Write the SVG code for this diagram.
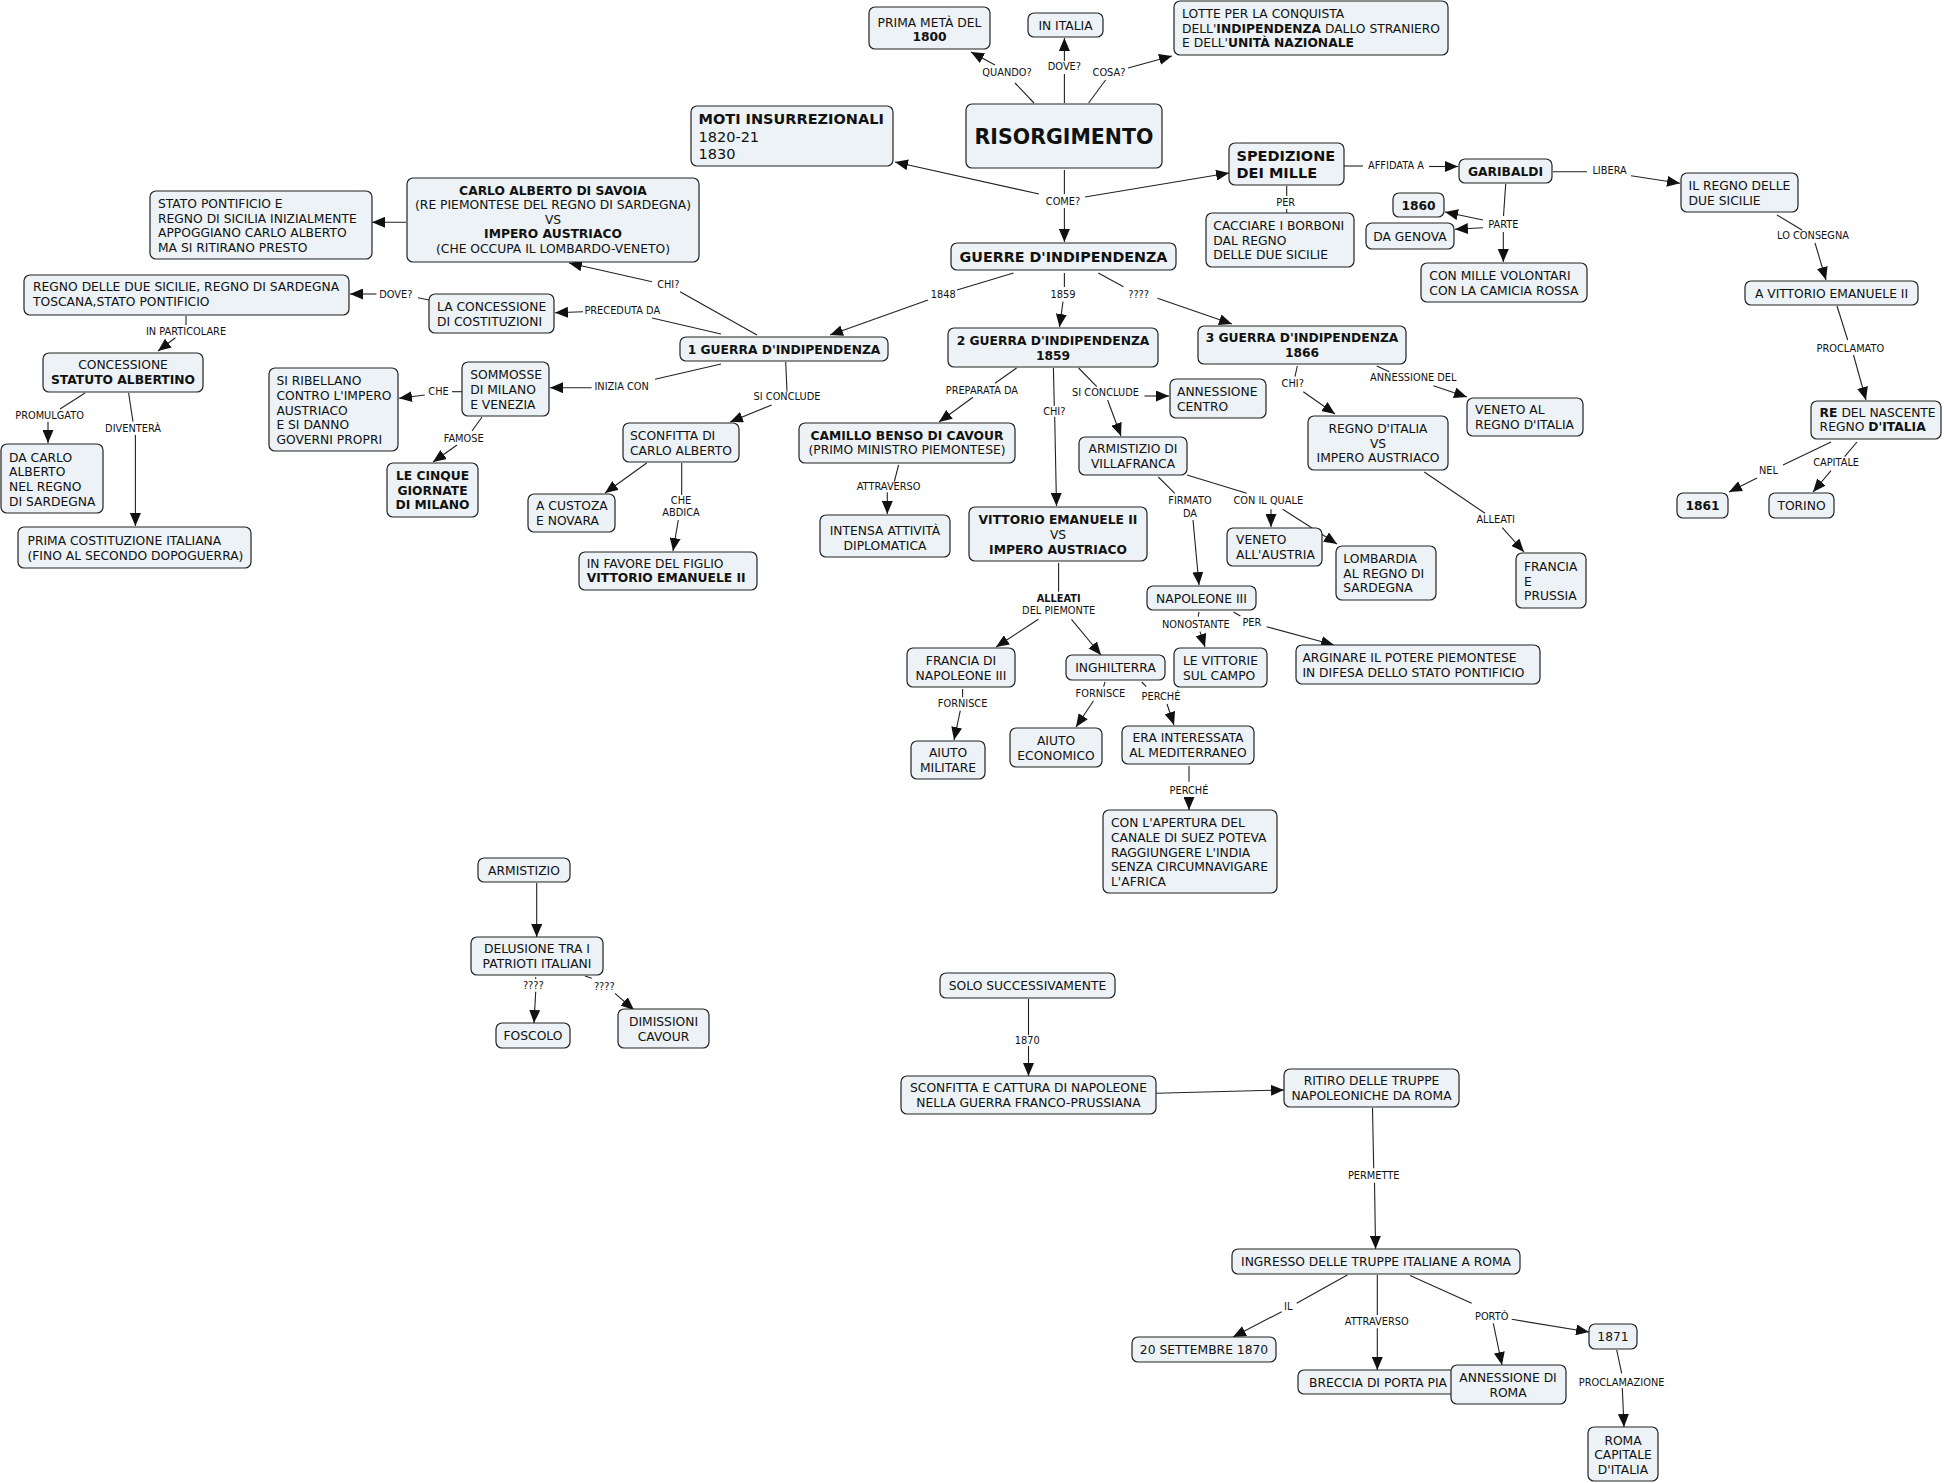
<svg xmlns="http://www.w3.org/2000/svg" width="1944" height="1483" viewBox="0 0 1944 1483">
<defs>
<style>
.n rect{fill:#ecf2f5;stroke:#222;stroke-width:1.2}
text{font-family:"DejaVu Sans",Verdana,sans-serif;fill:#111}
.t{font-size:12.3px}
.tc{text-anchor:middle}
.b{font-weight:bold}
.big{font-size:14.5px}
.l{font-size:9.8px;text-anchor:middle}
.c line{stroke:#222;stroke-width:1.1}
.c line.a{marker-end:url(#ah)}
</style>
<marker id="ah" markerUnits="userSpaceOnUse" markerWidth="13" markerHeight="11" refX="13" refY="5.5" orient="auto"><path d="M0,0 L13,5.5 L0,11 z" fill="#111"/></marker>
</defs>
<rect width="1944" height="1483" fill="#fff"/>
<g id="connectors" class="c">
<line x1="1034" y1="103" x2="1015" y2="83"/><line class="a" x1="995" y1="65" x2="971" y2="52"/>
<line x1="1064.4" y1="103" x2="1064.4" y2="74"/><line class="a" x1="1064.4" y1="61" x2="1064.4" y2="38"/>
<line x1="1088.6" y1="103" x2="1105.6" y2="80"/><line class="a" x1="1128" y1="68" x2="1172" y2="56"/>
<line x1="1064.4" y1="170" x2="1064.4" y2="194"/><line class="a" x1="1039" y1="194" x2="895" y2="162"/><line class="a" x1="1085" y1="197" x2="1229" y2="173"/><line class="a" x1="1064.4" y1="208" x2="1064.4" y2="242"/>
<line x1="1344" y1="166" x2="1363" y2="166"/><line class="a" x1="1429" y1="166.5" x2="1458" y2="166.5"/>
<line x1="1286.7" y1="186" x2="1286.7" y2="196"/><line x1="1286.7" y1="209" x2="1286.7" y2="213"/>
<line x1="1553" y1="171.7" x2="1587" y2="171.7"/><line class="a" x1="1631" y1="175.7" x2="1680" y2="183.3"/>
<line x1="1505.7" y1="184" x2="1503.5" y2="216"/><line class="a" x1="1483" y1="220" x2="1445" y2="212"/><line class="a" x1="1483" y1="227.7" x2="1455" y2="229.3"/><line class="a" x1="1503.3" y1="232" x2="1503.3" y2="262"/>
<line x1="1777" y1="215" x2="1802" y2="230"/><line class="a" x1="1815" y1="243" x2="1826" y2="280"/>
<line x1="1837" y1="306" x2="1847.7" y2="340"/><line class="a" x1="1853.5" y1="355" x2="1866" y2="400"/>
<line x1="1831" y1="442" x2="1783" y2="465"/><line class="a" x1="1757" y1="478" x2="1729" y2="492"/>
<line x1="1857" y1="442" x2="1844.6" y2="456.7"/><line class="a" x1="1831" y1="470.7" x2="1813" y2="492"/>
<line x1="1013.5" y1="273" x2="957" y2="290"/><line class="a" x1="928" y1="300" x2="830" y2="335"/>
<line x1="1064.4" y1="273" x2="1064.4" y2="287"/><line class="a" x1="1063" y1="301.7" x2="1059.5" y2="327"/>
<line x1="1098.3" y1="273" x2="1123.5" y2="286.7"/><line class="a" x1="1157.5" y1="298.3" x2="1232" y2="324"/>
<line x1="757" y1="335" x2="680" y2="291.7"/><line class="a" x1="652" y1="281.7" x2="569" y2="263"/>
<line x1="721" y1="334" x2="652" y2="318"/><line class="a" x1="583" y1="311.7" x2="555" y2="312.7"/>
<line x1="429" y1="300" x2="418" y2="297.7"/><line class="a" x1="376.5" y1="294" x2="350" y2="294"/>
<line x1="186" y1="316" x2="186" y2="325"/><line class="a" x1="175.4" y1="337.7" x2="158" y2="351"/>
<line x1="85" y1="393" x2="60" y2="409"/><line class="a" x1="48" y1="421.7" x2="48" y2="443"/>
<line x1="128.6" y1="393" x2="133" y2="421.7"/><line class="a" x1="135.4" y1="435" x2="135.4" y2="526"/>
<line x1="721" y1="364" x2="655" y2="379.3"/><line class="a" x1="591.7" y1="387.7" x2="550" y2="387.7"/>
<line x1="462" y1="391.7" x2="452" y2="391.7"/><line class="a" x1="424.7" y1="395" x2="399" y2="398.3"/>
<line x1="482" y1="417" x2="472" y2="431"/><line class="a" x1="457" y1="445" x2="433" y2="462"/>
<line x1="785.7" y1="362" x2="787" y2="391.7"/><line class="a" x1="771.7" y1="405" x2="730" y2="422"/>
<line class="a" x1="646.7" y1="463" x2="605" y2="493"/>
<line x1="681.7" y1="463" x2="681.7" y2="495"/><line class="a" x1="678.3" y1="520" x2="673" y2="551"/>
<line x1="1016.6" y1="368" x2="995" y2="383.3"/><line class="a" x1="973" y1="397.3" x2="939" y2="422"/>
<line x1="898.6" y1="465" x2="894.3" y2="481.7"/><line class="a" x1="887.3" y1="492.3" x2="887.3" y2="514"/>
<line x1="1053.4" y1="368" x2="1054.3" y2="406"/><line class="a" x1="1054.7" y1="416.7" x2="1056.5" y2="506"/>
<line x1="1078.6" y1="368" x2="1096.8" y2="386.7"/><line class="a" x1="1144.5" y1="396" x2="1169" y2="396"/><line class="a" x1="1107.6" y1="400" x2="1121" y2="436"/>
<line x1="1158.4" y1="477" x2="1174.8" y2="493.3"/><line class="a" x1="1193" y1="520" x2="1199" y2="585"/>
<line x1="1187" y1="475" x2="1246.7" y2="493.3"/><line class="a" x1="1271" y1="509.3" x2="1271" y2="527"/><line class="a" x1="1282.7" y1="509.3" x2="1337" y2="544"/>
<line x1="1297.3" y1="366" x2="1295" y2="376.7"/><line class="a" x1="1303.3" y1="391.7" x2="1335" y2="414"/>
<line x1="1376.7" y1="366" x2="1389.3" y2="371.7"/><line class="a" x1="1433.3" y1="385.7" x2="1467" y2="397"/>
<line x1="1424.3" y1="472" x2="1485" y2="513.3"/><line class="a" x1="1502.3" y1="527.7" x2="1524" y2="552"/>
<line x1="1058.6" y1="563" x2="1058.6" y2="591.7"/><line class="a" x1="1038.4" y1="619.3" x2="996" y2="647"/><line class="a" x1="1071.5" y1="619.3" x2="1101" y2="655"/>
<line x1="962.6" y1="689" x2="962.6" y2="697.3"/><line class="a" x1="960.3" y1="710.7" x2="954" y2="740"/>
<line x1="1105" y1="682" x2="1103.6" y2="686.7"/><line class="a" x1="1093.5" y1="700.7" x2="1076" y2="727"/>
<line x1="1141.7" y1="682" x2="1146.3" y2="686.7"/><line class="a" x1="1167" y1="704" x2="1174" y2="725"/>
<line x1="1189" y1="766" x2="1189" y2="781.7"/><line class="a" x1="1189" y1="797.3" x2="1189" y2="810"/>
<line x1="1199" y1="612" x2="1198.2" y2="616.7"/><line class="a" x1="1200" y1="631.7" x2="1205" y2="647"/>
<line x1="1233.5" y1="612" x2="1240.4" y2="616"/><line class="a" x1="1266.6" y1="626.7" x2="1334" y2="645"/>
<line class="a" x1="536.7" y1="883" x2="536.7" y2="937"/>
<line x1="535.7" y1="977" x2="535.7" y2="979"/><line class="a" x1="535.7" y1="991.7" x2="534" y2="1023"/>
<line x1="585" y1="976" x2="591.7" y2="978.3"/><line class="a" x1="615" y1="993.3" x2="634" y2="1010"/>
<line x1="1028.5" y1="999" x2="1028.5" y2="1035"/><line class="a" x1="1028.5" y1="1046" x2="1028.5" y2="1076"/>
<line class="a" x1="1156.3" y1="1093.3" x2="1284" y2="1090"/>
<line x1="1372.5" y1="1108" x2="1373.7" y2="1168.3"/><line class="a" x1="1374.5" y1="1182.7" x2="1375.6" y2="1249"/>
<line x1="1347.3" y1="1275" x2="1296.7" y2="1303.3"/><line class="a" x1="1281.7" y1="1311.7" x2="1233" y2="1337"/>
<line x1="1377.3" y1="1275" x2="1377.3" y2="1315"/><line class="a" x1="1377.3" y1="1328.3" x2="1377.3" y2="1370"/>
<line x1="1410" y1="1275.5" x2="1471.7" y2="1303.3"/><line class="a" x1="1493.3" y1="1323.3" x2="1502" y2="1365"/><line class="a" x1="1511.7" y1="1319.3" x2="1589" y2="1332"/>
<line x1="1616.7" y1="1350" x2="1621.7" y2="1373.3"/><line class="a" x1="1622.3" y1="1388" x2="1624" y2="1427"/>
<line class="a" x1="406" y1="222.3" x2="372" y2="222.3"/>
<text class="l" x="1007" y="76.3">QUANDO?</text>
<text class="l" x="1064.4" y="70.3">DOVE?</text>
<text class="l" x="1109" y="76.3">COSA?</text>
<text class="l" x="1063" y="204.9">COME?</text>
<text class="l" x="1396" y="168.6">AFFIDATA A</text>
<text class="l" x="1285.7" y="206.3">PER</text>
<text class="l" x="1609.6" y="174.3">LIBERA</text>
<text class="l" x="1503.3" y="227.9">PARTE</text>
<text class="l" x="1813" y="239.3">LO CONSEGNA</text>
<text class="l" x="1850.4" y="351.6">PROCLAMATO</text>
<text class="l" x="1768.4" y="474.3">NEL</text>
<text class="l" x="1836.1" y="466.3">CAPITALE</text>
<text class="l" x="943.2" y="298.3">1848</text>
<text class="l" x="1063" y="297.6">1859</text>
<text class="l" x="1138.6" y="297.6">????</text>
<text class="l" x="668.3" y="287.6">CHI?</text>
<text class="l" x="622.3" y="314.3">PRECEDUTA DA</text>
<text class="l" x="395.8" y="297.6">DOVE?</text>
<text class="l" x="186" y="334.6">IN PARTICOLARE</text>
<text class="l" x="49.6" y="418.6">PROMULGATO</text>
<text class="l" x="133.1" y="431.9">DIVENTERÀ</text>
<text class="l" x="621.7" y="390.3">INIZIA CON</text>
<text class="l" x="438.5" y="395.3">CHE</text>
<text class="l" x="463.7" y="441.9">FAMOSE</text>
<text class="l" x="787" y="400.3">SI CONCLUDE</text>
<text class="l" x="681" y="504.3">CHE<tspan x="681" y="516.3">ABDICA</tspan></text>
<text class="l" x="981.9" y="393.6">PREPARATA DA</text>
<text class="l" x="888.6" y="490.3">ATTRAVERSO</text>
<text class="l" x="1054.3" y="414.6">CHI?</text>
<text class="l" x="1105.5" y="396.3">SI CONCLUDE</text>
<text class="l" x="1190" y="504.3">FIRMATO<tspan x="1190" y="516.9">DA</tspan></text>
<text class="l" x="1268.3" y="503.6">CON IL QUALE</text>
<text class="l" x="1292.7" y="386.9">CHI?</text>
<text class="l" x="1413.3" y="381.3">ANNESSIONE DEL</text>
<text class="l" x="1495.7" y="522.9">ALLEATI</text>
<text class="l" x="1058.6" y="601.9"><tspan class="b">ALLEATI</tspan><tspan x="1058.6" y="614.3">DEL PIEMONTE</tspan></text>
<text class="l" x="962.6" y="706.9">FORNISCE</text>
<text class="l" x="1100.4" y="696.9">FORNISCE</text>
<text class="l" x="1161" y="700.3">PERCHÉ</text>
<text class="l" x="1189" y="794.3">PERCHÉ</text>
<text class="l" x="1195.9" y="627.9">NONOSTANTE</text>
<text class="l" x="1251.9" y="626.3">PER</text>
<text class="l" x="533.3" y="989.3">????</text>
<text class="l" x="604.3" y="990.3">????</text>
<text class="l" x="1027.3" y="1043.6">1870</text>
<text class="l" x="1373.7" y="1178.6">PERMETTE</text>
<text class="l" x="1288.3" y="1310.3">IL</text>
<text class="l" x="1376.7" y="1325.3">ATTRAVERSO</text>
<text class="l" x="1491.7" y="1319.6">PORTÒ</text>
<text class="l" x="1621.6" y="1386">PROCLAMAZIONE</text>
</g>
<g id="n-prima" class="n"><rect x="869" y="7" width="121" height="42" rx="6"/><text class="t tc" x="929.5" y="27.2">PRIMA METÀ DEL<tspan class="b" x="929.5" y="41.2">1800</tspan></text></g>
<g id="n-initalia" class="n"><rect x="1028" y="13" width="75" height="24" rx="6"/><text class="t tc" x="1065.5" y="29.5">IN ITALIA</text></g>
<g id="n-lotte" class="n"><rect x="1174" y="1" width="274" height="54" rx="6"/><text class="t" x="1182" y="17.8">LOTTE PER LA CONQUISTA<tspan x="1182" y="32.8">DELL'<tspan class="b">INDIPENDENZA</tspan> DALLO STRANIERO</tspan><tspan x="1182" y="47.2">E DELL'<tspan class="b">UNITÀ NAZIONALE</tspan></tspan></text></g>
<g id="n-risorgimento" class="n"><rect x="966" y="104" width="196" height="64" rx="6"/><text class="b tc" x="1064" y="143.5" font-size="20.5">RISORGIMENTO</text></g>
<g id="n-moti" class="n"><rect x="691" y="106" width="202" height="60" rx="6"/><text class="big" x="698.5" y="124.3"><tspan class="b">MOTI INSURREZIONALI</tspan><tspan x="698.5" y="142">1820-21</tspan><tspan x="698.5" y="158.6">1830</tspan></text></g>
<g id="n-spedizione" class="n"><rect x="1229" y="143" width="115" height="42" rx="6"/><text class="big b" x="1236.5" y="160.6">SPEDIZIONE<tspan x="1236.5" y="178">DEI MILLE</tspan></text></g>
<g id="n-guerre" class="n"><rect x="951" y="243" width="225" height="27" rx="6"/><text class="b tc" x="1063.5" y="262" font-size="14.3">GUERRE D'INDIPENDENZA</text></g>
<g id="n-cacciare" class="n"><rect x="1206" y="213" width="148" height="54" rx="6"/><text class="t" x="1213.3" y="229.5">CACCIARE I BORBONI<tspan x="1213.3" y="244.5">DAL REGNO</tspan><tspan x="1213.3" y="259.2">DELLE DUE SICILIE</tspan></text></g>
<g id="n-garibaldi" class="n"><rect x="1459" y="159" width="93" height="24" rx="6"/><text class="t tc b" x="1505.5" y="175.5">GARIBALDI</text></g>
<g id="n-1860" class="n"><rect x="1393" y="193" width="51" height="24" rx="6"/><text class="t tc b" x="1418.5" y="209.5">1860</text></g>
<g id="n-genova" class="n"><rect x="1366" y="223" width="88" height="26" rx="6"/><text class="t tc" x="1410" y="240.5">DA GENOVA</text></g>
<g id="n-conmille" class="n"><rect x="1421" y="263" width="166" height="39" rx="6"/><text class="t" x="1429.3" y="280.2">CON MILLE VOLONTARI<tspan x="1429.3" y="294.5">CON LA CAMICIA ROSSA</tspan></text></g>
<g id="n-regnodue" class="n"><rect x="1681" y="173" width="117" height="39" rx="6"/><text class="t" x="1688.6" y="189.5">IL REGNO DELLE<tspan x="1688.6" y="204.5">DUE SICILIE</tspan></text></g>
<g id="n-avittorio" class="n"><rect x="1745" y="281" width="173" height="24" rx="6"/><text class="t tc" x="1831.5" y="297.5">A VITTORIO EMANUELE II</text></g>
<g id="n-re" class="n"><rect x="1811" y="401" width="130" height="38" rx="6"/><text class="t" x="1819.6" y="416.8"><tspan class="b">RE</tspan> DEL NASCENTE<tspan x="1819.6" y="431.2">REGNO <tspan class="b">D'ITALIA</tspan></tspan></text></g>
<g id="n-1861" class="n"><rect x="1677" y="493" width="51" height="25" rx="6"/><text class="t tc b" x="1702.5" y="510">1861</text></g>
<g id="n-torino" class="n"><rect x="1769" y="493" width="65" height="25" rx="6"/><text class="t tc" x="1801.5" y="510">TORINO</text></g>
<g id="n-carlo" class="n"><rect x="407" y="178" width="292" height="84" rx="6"/><text class="t tc" x="553" y="194.5"><tspan class="b">CARLO ALBERTO DI SAVOIA</tspan><tspan x="553" y="208.8">(RE PIEMONTESE DEL REGNO DI SARDEGNA)</tspan><tspan x="553" y="223.5">VS</tspan><tspan class="b" x="553" y="237.8">IMPERO AUSTRIACO</tspan><tspan x="553" y="252.8">(CHE OCCUPA IL LOMBARDO-VENETO)</tspan></text></g>
<g id="n-stato" class="n"><rect x="150" y="191" width="222" height="68" rx="6"/><text class="t" x="158" y="207.8">STATO PONTIFICIO E<tspan x="158" y="222.8">REGNO DI SICILIA INIZIALMENTE</tspan><tspan x="158" y="237.2">APPOGGIANO CARLO ALBERTO</tspan><tspan x="158" y="251.8">MA SI RITIRANO PRESTO</tspan></text></g>
<g id="n-regnoduesic" class="n"><rect x="24" y="275" width="325" height="40" rx="6"/><text class="t" x="33" y="291.2">REGNO DELLE DUE SICILIE, REGNO DI SARDEGNA<tspan x="33" y="305.5">TOSCANA,STATO PONTIFICIO</tspan></text></g>
<g id="n-laconcessione" class="n"><rect x="429" y="294" width="125" height="39" rx="6"/><text class="t" x="437" y="311.2">LA CONCESSIONE<tspan x="437" y="326.2">DI COSTITUZIONI</tspan></text></g>
<g id="n-statuto" class="n"><rect x="43" y="353" width="160" height="39" rx="6"/><text class="t tc" x="123" y="368.8">CONCESSIONE<tspan class="b" x="123" y="383.5">STATUTO ALBERTINO</tspan></text></g>
<g id="n-dacarlo" class="n"><rect x="1" y="444" width="102" height="69" rx="6"/><text class="t" x="9" y="461.8">DA CARLO<tspan x="9" y="476.2">ALBERTO</tspan><tspan x="9" y="491.2">NEL REGNO</tspan><tspan x="9" y="506.2">DI SARDEGNA</tspan></text></g>
<g id="n-primacost" class="n"><rect x="18" y="527" width="233" height="41" rx="6"/><text class="t" x="27.5" y="545.2">PRIMA COSTITUZIONE ITALIANA<tspan x="27.5" y="559.8">(FINO AL SECONDO DOPOGUERRA)</tspan></text></g>
<g id="n-ribellano" class="n"><rect x="269" y="368" width="129" height="83" rx="6"/><text class="t" x="276.4" y="385.2">SI RIBELLANO<tspan x="276.4" y="399.8">CONTRO L'IMPERO</tspan><tspan x="276.4" y="414.5">AUSTRIACO</tspan><tspan x="276.4" y="429.2">E SI DANNO</tspan><tspan x="276.4" y="443.8">GOVERNI PROPRI</tspan></text></g>
<g id="n-sommosse" class="n"><rect x="462" y="362" width="87" height="54" rx="6"/><text class="t" x="470.2" y="378.8">SOMMOSSE<tspan x="470.2" y="393.8">DI MILANO</tspan><tspan x="470.2" y="408.5">E VENEZIA</tspan></text></g>
<g id="n-cinque" class="n"><rect x="387" y="463" width="91" height="54" rx="6"/><text class="t tc b" x="432.5" y="480.2">LE CINQUE<tspan x="432.5" y="494.5">GIORNATE</tspan><tspan x="432.5" y="508.8">DI MILANO</tspan></text></g>
<g id="n-guerra1" class="n"><rect x="680" y="337" width="208" height="24" rx="6"/><text class="t tc b" x="784" y="353.5">1 GUERRA D'INDIPENDENZA</text></g>
<g id="n-sconfitta" class="n"><rect x="623" y="423" width="116" height="39" rx="6"/><text class="t" x="630" y="440.2">SCONFITTA DI<tspan x="630" y="454.5">CARLO ALBERTO</tspan></text></g>
<g id="n-custoza" class="n"><rect x="528" y="494" width="87" height="38" rx="6"/><text class="t" x="536" y="510.2">A CUSTOZA<tspan x="536" y="524.5">E NOVARA</tspan></text></g>
<g id="n-favore" class="n"><rect x="579" y="552" width="178" height="38" rx="6"/><text class="t" x="586.7" y="567.8">IN FAVORE DEL FIGLIO<tspan class="b" x="586.7" y="582.2">VITTORIO EMANUELE II</tspan></text></g>
<g id="n-guerra2" class="n"><rect x="948" y="328" width="210" height="39" rx="6"/><text class="t tc b" x="1053" y="345.2">2 GUERRA D'INDIPENDENZA<tspan x="1053" y="359.5">1859</tspan></text></g>
<g id="n-cavour" class="n"><rect x="799" y="423" width="216" height="40" rx="6"/><text class="t tc" x="907" y="439.5"><tspan class="b">CAMILLO BENSO DI CAVOUR</tspan><tspan x="907" y="453.8">(PRIMO MINISTRO PIEMONTESE)</tspan></text></g>
<g id="n-intensa" class="n"><rect x="820" y="515" width="130" height="42" rx="6"/><text class="t tc" x="885" y="535.2">INTENSA ATTIVITÀ<tspan x="885" y="549.5">DIPLOMATICA</tspan></text></g>
<g id="n-vittoriovs" class="n"><rect x="969" y="507" width="178" height="54" rx="6"/><text class="t tc" x="1058" y="523.8"><tspan class="b">VITTORIO EMANUELE II</tspan><tspan x="1058" y="538.8">VS</tspan><tspan class="b" x="1058" y="553.5">IMPERO AUSTRIACO</tspan></text></g>
<g id="n-annessionecentro" class="n"><rect x="1170" y="379" width="96" height="39" rx="6"/><text class="t" x="1177" y="396.2">ANNESSIONE<tspan x="1177" y="410.5">CENTRO</tspan></text></g>
<g id="n-villafranca" class="n"><rect x="1079" y="437" width="108" height="38" rx="6"/><text class="t tc" x="1133" y="452.8">ARMISTIZIO DI<tspan x="1133" y="467.8">VILLAFRANCA</tspan></text></g>
<g id="n-venetoaustria" class="n"><rect x="1227" y="528" width="95" height="38" rx="6"/><text class="t" x="1236" y="543.8">VENETO<tspan x="1236" y="558.5">ALL'AUSTRIA</tspan></text></g>
<g id="n-lombardia" class="n"><rect x="1336" y="546" width="100" height="54" rx="6"/><text class="t" x="1343.3" y="562.8">LOMBARDIA<tspan x="1343.3" y="577.8">AL REGNO DI</tspan><tspan x="1343.3" y="591.8">SARDEGNA</tspan></text></g>
<g id="n-napoleone" class="n"><rect x="1147" y="586" width="109" height="24" rx="6"/><text class="t tc" x="1201.5" y="602.5">NAPOLEONE III</text></g>
<g id="n-guerra3" class="n"><rect x="1198" y="326" width="208" height="38" rx="6"/><text class="t tc b" x="1302" y="341.8">3 GUERRA D'INDIPENDENZA<tspan x="1302" y="356.8">1866</tspan></text></g>
<g id="n-regnoitaliavs" class="n"><rect x="1308" y="416" width="140" height="54" rx="6"/><text class="t tc" x="1378" y="432.8">REGNO D'ITALIA<tspan x="1378" y="447.8">VS</tspan><tspan x="1378" y="461.8">IMPERO AUSTRIACO</tspan></text></g>
<g id="n-venetoal" class="n"><rect x="1467" y="398" width="116" height="38" rx="6"/><text class="t" x="1475" y="413.8">VENETO AL<tspan x="1475" y="428.5">REGNO D'ITALIA</tspan></text></g>
<g id="n-franciaprussia" class="n"><rect x="1516" y="553" width="70" height="55" rx="6"/><text class="t" x="1524" y="571.2">FRANCIA<tspan x="1524" y="585.5">E</tspan><tspan x="1524" y="600.2">PRUSSIA</tspan></text></g>
<g id="n-francianap" class="n"><rect x="907" y="648" width="108" height="39" rx="6"/><text class="t tc" x="961" y="665.2">FRANCIA DI<tspan x="961" y="679.5">NAPOLEONE III</tspan></text></g>
<g id="n-inghilterra" class="n"><rect x="1066" y="655" width="99" height="25" rx="6"/><text class="t tc" x="1115.5" y="672">INGHILTERRA</text></g>
<g id="n-vittorie" class="n"><rect x="1174" y="648" width="93" height="39" rx="6"/><text class="t" x="1183" y="665.2">LE VITTORIE<tspan x="1183" y="679.5">SUL CAMPO</tspan></text></g>
<g id="n-arginare" class="n"><rect x="1296" y="645" width="244" height="39" rx="6"/><text class="t" x="1302.4" y="662.2">ARGINARE IL POTERE PIEMONTESE<tspan x="1302.4" y="676.5">IN DIFESA DELLO STATO PONTIFICIO</tspan></text></g>
<g id="n-militare" class="n"><rect x="911" y="741" width="74" height="38" rx="6"/><text class="t tc" x="948" y="757.2">AIUTO<tspan x="948" y="771.8">MILITARE</tspan></text></g>
<g id="n-economico" class="n"><rect x="1010" y="728" width="92" height="39" rx="6"/><text class="t tc" x="1056" y="745.2">AIUTO<tspan x="1056" y="759.5">ECONOMICO</tspan></text></g>
<g id="n-interessata" class="n"><rect x="1122" y="726" width="132" height="38" rx="6"/><text class="t tc" x="1188" y="741.8">ERA INTERESSATA<tspan x="1188" y="756.8">AL MEDITERRANEO</tspan></text></g>
<g id="n-apertura" class="n"><rect x="1103" y="810" width="174" height="83" rx="6"/><text class="t" x="1111" y="827.2">CON L'APERTURA DEL<tspan x="1111" y="841.8">CANALE DI SUEZ POTEVA</tspan><tspan x="1111" y="856.5">RAGGIUNGERE L'INDIA</tspan><tspan x="1111" y="871.2">SENZA CIRCUMNAVIGARE</tspan><tspan x="1111" y="885.8">L'AFRICA</tspan></text></g>
<g id="n-armistizio" class="n"><rect x="478" y="858" width="92" height="24" rx="6"/><text class="t tc" x="524" y="874.5">ARMISTIZIO</text></g>
<g id="n-delusione" class="n"><rect x="471" y="937" width="132" height="38" rx="6"/><text class="t tc" x="537" y="952.8">DELUSIONE TRA I<tspan x="537" y="967.8">PATRIOTI ITALIANI</tspan></text></g>
<g id="n-foscolo" class="n"><rect x="496" y="1023" width="74" height="25" rx="6"/><text class="t tc" x="533" y="1040">FOSCOLO</text></g>
<g id="n-dimissioni" class="n"><rect x="618" y="1009" width="91" height="39" rx="6"/><text class="t tc" x="663.5" y="1026.2">DIMISSIONI<tspan x="663.5" y="1040.5">CAVOUR</tspan></text></g>
<g id="n-solo" class="n"><rect x="940" y="973" width="175" height="25" rx="6"/><text class="t tc" x="1027.5" y="990">SOLO SUCCESSIVAMENTE</text></g>
<g id="n-sconfittacattura" class="n"><rect x="901" y="1076" width="255" height="38" rx="6"/><text class="t tc" x="1028.5" y="1092.2">SCONFITTA E CATTURA DI NAPOLEONE<tspan x="1028.5" y="1106.8">NELLA GUERRA FRANCO-PRUSSIANA</tspan></text></g>
<g id="n-ritiro" class="n"><rect x="1284" y="1069" width="175" height="38" rx="6"/><text class="t tc" x="1371.5" y="1085.2">RITIRO DELLE TRUPPE<tspan x="1371.5" y="1099.5">NAPOLEONICHE DA ROMA</tspan></text></g>
<g id="n-ingresso" class="n"><rect x="1232" y="1249" width="288" height="25" rx="6"/><text class="t tc" x="1376" y="1266">INGRESSO DELLE TRUPPE ITALIANE A ROMA</text></g>
<g id="n-20sett" class="n"><rect x="1132" y="1337" width="144" height="25" rx="6"/><text class="t tc" x="1204" y="1354">20 SETTEMBRE 1870</text></g>
<g id="n-breccia" class="n"><rect x="1298" y="1370" width="160" height="24" rx="6"/><text class="t tc" x="1378" y="1386.5">BRECCIA DI PORTA PIA</text></g>
<g id="n-annessioneroma" class="n"><rect x="1451" y="1365" width="115" height="39" rx="6"/><text class="t tc" x="1508" y="1381.8">ANNESSIONE DI<tspan x="1508" y="1396.8">ROMA</tspan></text></g>
<g id="n-1871" class="n"><rect x="1589" y="1324" width="48" height="25" rx="6"/><text class="t tc" x="1613" y="1341">1871</text></g>
<g id="n-romacapitale" class="n"><rect x="1588" y="1427" width="70" height="54" rx="6"/><text class="t tc" x="1623" y="1444.5">ROMA<tspan x="1623" y="1458.8">CAPITALE</tspan><tspan x="1623" y="1473.5">D'ITALIA</tspan></text></g>
</svg>
